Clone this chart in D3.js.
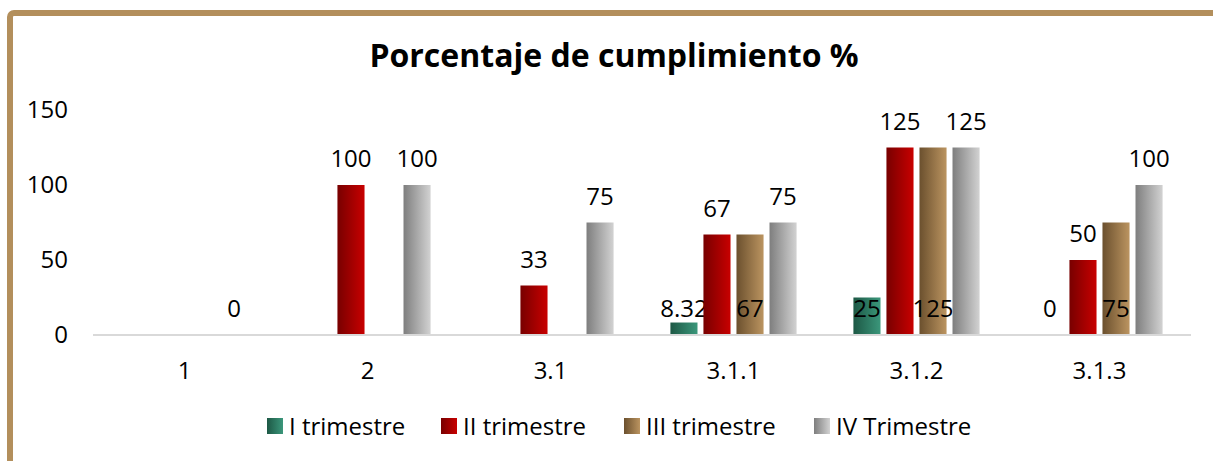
<!DOCTYPE html>
<html>
<head>
<meta charset="utf-8">
<script src="https://cdn.jsdelivr.net/npm/d3@7"></script>
<style>
  body { margin: 0; background: #fff; }
  svg { display: block; font-family: "Open Sans", "Noto Sans", sans-serif; }
</style>
</head>
<body>
<svg id="chart" width="1213" height="461"></svg>
<script>
// data
const categories = ["1", "2", "3.1", "3.1.1", "3.1.2", "3.1.3"];
const seriesNames = ["I trimestre", "II trimestre", "III trimestre", "IV Trimestre"];
const trim1 = [null, null, null, 8.32, 25, 0];
const trim2 = [null, 100, 33, 67, 125, 50];
const trim3 = [null, null, null, 67, 125, 75];
const trim4 = [0, 100, 75, 75, 125, 100];
const yTicks = [0, 50, 100, 150];

const seriesValues = [trim1, trim2, trim3, trim4];
// the Excel labels of series I and III sit at the base of the bar
const baseLabelSeries = new Set(["I trimestre", "III trimestre"]);
const gradColors = [
  ["#1d5845", "#3b977b"],
  ["#780000", "#c80000"],
  ["#6b502e", "#bb9460"],
  ["#7e7e7e", "#d2d2d2"]
];

const width = 1213, height = 461;
const margin = { left: 93, right: 22, top: 110, bottom: 126 };
const fontSize = 24;

const svg = d3.select("#chart");

// frame
svg.append("rect")
  .attr("x", 10).attr("y", 13)
  .attr("width", 1300).attr("height", 600)
  .attr("rx", 4)
  .attr("fill", "none")
  .attr("stroke", "#b38f5c")
  .attr("stroke-width", 6);

const defs = svg.append("defs");
gradColors.forEach((c, i) => {
  const g = defs.append("linearGradient")
    .attr("id", "grad" + i)
    .attr("x1", "0%").attr("x2", "100%")
    .attr("y1", "0%").attr("y2", "0%");
  g.append("stop").attr("offset", "0%").attr("stop-color", c[0]);
  g.append("stop").attr("offset", "100%").attr("stop-color", c[1]);
});

const x0 = d3.scaleBand()
  .domain(categories)
  .range([margin.left, width - margin.right]);

const x1 = d3.scaleBand()
  .domain(seriesNames)
  .range([0, x0.bandwidth()])
  .paddingInner(0.18)
  .paddingOuter(0.86);

const y = d3.scaleLinear()
  .domain([0, 150])
  .range([height - margin.bottom, margin.top]);

// title
svg.append("text")
  .text("Porcentaje de cumplimiento %")
  .attr("x", 614)
  .attr("y", 67)
  .attr("text-anchor", "middle")
  .attr("font-weight", "bold")
  .attr("font-size", 32)
  .attr("fill", "#000");

// y axis labels
svg.append("g")
  .selectAll("text")
  .data(yTicks)
  .enter()
  .append("text")
  .text(d => d)
  .attr("x", 68)
  .attr("y", d => y(d))
  .attr("dy", "0.35em")
  .attr("text-anchor", "end")
  .attr("font-size", fontSize)
  .attr("fill", "#000");

// bars
const groups = svg.append("g")
  .selectAll("g")
  .data(seriesNames)
  .enter()
  .append("g");

groups.each(function (name, si) {
  const vals = seriesValues[si];
  const g = d3.select(this);
  const data = categories.map((c, i) => ({ c, v: vals[i] })).filter(d => d.v !== null);
  g.selectAll("rect")
    .data(data)
    .enter()
    .append("rect")
    .attr("x", d => x0(d.c) + x1(name))
    .attr("y", d => y(d.v))
    .attr("width", x1.bandwidth())
    .attr("height", d => y(0) - y(d.v))
    .attr("fill", `url(#grad${si})`);
});

// x axis line
svg.append("line")
  .attr("x1", margin.left).attr("x2", width - margin.right)
  .attr("y1", y(0)).attr("y2", y(0))
  .attr("stroke", "#d9d9d9")
  .attr("stroke-width", 2);

// category labels
svg.append("g")
  .selectAll("text")
  .data(categories)
  .enter()
  .append("text")
  .text(d => d)
  .attr("x", d => x0(d) + x0.bandwidth() / 2)
  .attr("y", 379)
  .attr("text-anchor", "middle")
  .attr("font-size", fontSize)
  .attr("fill", "#000");

// data labels
groups.each(function (name, si) {
  const vals = seriesValues[si];
  const data = categories.map((c, i) => ({ c, v: vals[i] })).filter(d => d.v !== null);
  d3.select(this).selectAll("text")
    .data(data)
    .enter()
    .append("text")
    .text(d => d.v)
    .attr("x", d => x0(d.c) + x1(name) + x1.bandwidth() / 2)
    .attr("y", d => (baseLabelSeries.has(name) ? y(0) : y(d.v)) - 18)
    .attr("text-anchor", "middle")
    .attr("font-size", fontSize)
    .attr("fill", "#000");
});

// legend
const legendX = [267, 441, 624, 814];
const legend = svg.append("g")
  .selectAll("g")
  .data(seriesNames)
  .enter()
  .append("g")
  .attr("transform", (d, i) => `translate(${legendX[i]}, 418)`);

legend.append("rect")
  .attr("width", 16).attr("height", 16)
  .attr("fill", (d, i) => `url(#grad${i})`);

legend.append("text")
  .text(d => d)
  .attr("x", 22)
  .attr("y", 17)
  .attr("font-size", fontSize)
  .attr("fill", "#000");
</script>
</body>
</html>
